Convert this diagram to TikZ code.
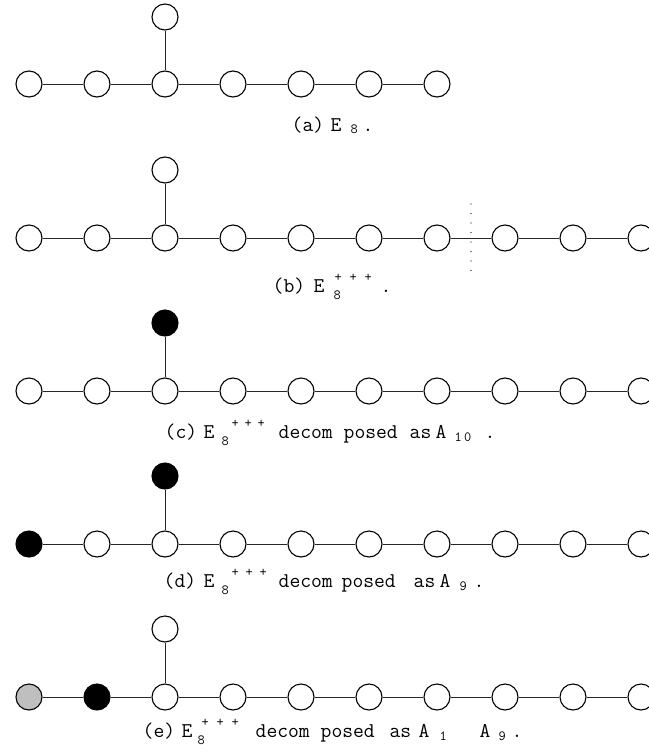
\documentclass[tikz,border=0pt]{standalone}
\usepackage{fontspec}
\newcommand{\capfnt}{\ttfamily\fontsize{21}{23}\selectfont}
\newcommand{\scr}{\fontsize{14}{14}\selectfont}
\newcommand{\pc}[2]{\makebox[0pt][l]{\hspace*{#1pt}#2}}
\newcommand{\lo}[2]{\pc{#1}{\raisebox{-#2pt}{\scr 8}}}
\newcommand{\ppp}[2]{\pc{#1}{\raisebox{11pt}{\scr +}}\pc{\the\numexpr#1+#2\relax}{\raisebox{11pt}{\scr +}}\pc{\the\numexpr#1+#2+#2\relax}{\raisebox{11pt}{\scr +}}}
\newcommand{\sub}[2]{\pc{#1}{\raisebox{-3pt}{\scr #2}}}
\tikzset{
  dn/.style={circle, draw=black, line width=1.1pt, minimum size=26pt, inner sep=0pt, fill=white},
  blk/.style={dn, fill=black},
  gry/.style={dn, fill=black!25},
  edge/.style={line width=1pt, draw=black!85},
  captxt/.style={anchor=base west, font=\capfnt, inner sep=0pt},
  sepline/.style={line width=1.4pt, line cap=round, dash pattern=on 0pt off 9.5pt, draw=black}
}
\begin{document}
\begin{tikzpicture}[x=1pt,y=-1pt]
\useasboundingbox (0,0) rectangle (648,755);
% (a)
\foreach \i in {1,...,7} \node[dn] (a\i) at ({29+68*(\i-1)},84) {};
\node[dn] (at) at (165,17) {};
\foreach \i [evaluate=\i as \j using int(\i+1)] in {1,...,6} \draw[edge] (a\i) -- (a\j);
\draw[edge] (a3) -- (at);
\node[captxt] (capa) at (0,131) {\pc{291}{(a)}\pc{330}{E}\lo{350}{2}\pc{362}{.}};
% (b)
\foreach \i in {1,...,10} \node[dn] (b\i) at ({29+68*(\i-1)},238) {};
\node[dn] (bt) at (165,170) {};
\foreach \i [evaluate=\i as \j using int(\i+1)] in {1,...,9} \draw[edge] (b\i) -- (b\j);
\draw[edge] (b3) -- (bt);
\coordinate (sbt) at (471,204);
\coordinate (sbb) at (471,271);
\draw[sepline] (sbt) -- (sbb);
\node[captxt] (capb) at (0,292) {\pc{272}{(b)}\pc{313}{E}\lo{333}{7}\ppp{334}{15}\pc{380}{.}};
% (c)
\foreach \i in {1,...,10} \node[dn] (c\i) at ({29+68*(\i-1)},391) {};
\node[blk] (ct) at (165,323) {};
\foreach \i [evaluate=\i as \j using int(\i+1)] in {1,...,9} \draw[edge] (c\i) -- (c\j);
\draw[edge] (c3) -- (ct);
\node[captxt] (capc) at (0,438) {\pc{164}{(c)}\pc{203}{E}\lo{221}{7}\ppp{231}{13}\pc{278}{decom}\pc{343}{posed}\pc{409}{as}\pc{435}{A}\sub{454}{1\,0}\pc{484}{.}};
% (d)
\node[blk] (d1) at (29,544) {};
\foreach \i in {2,...,10} \node[dn] (d\i) at ({29+68*(\i-1)},544) {};
\node[blk] (dt) at (165,476) {};
\foreach \i [evaluate=\i as \j using int(\i+1)] in {1,...,9} \draw[edge] (d\i) -- (d\j);
\draw[edge] (d3) -- (dt);
\node[captxt] (capd) at (0,587) {\pc{163}{(d)}\pc{203}{E}\lo{221}{7}\ppp{231}{14}\pc{278}{decom}\pc{341}{posed}\pc{413}{as}\pc{439}{A}\sub{459}{9}\pc{473}{.}};
% (e)
\node[gry] (e1) at (29,697) {};
\node[blk] (e2) at (97,697) {};
\foreach \i in {3,...,10} \node[dn] (e\i) at ({29+68*(\i-1)},697) {};
\node[dn] (et) at (165,629) {};
\foreach \i [evaluate=\i as \j using int(\i+1)] in {1,...,9} \draw[edge] (e\i) -- (e\j);
\draw[edge] (e3) -- (et);
\node[captxt] (cape) at (0,737) {\pc{142}{(e)}\pc{181}{E}\lo{197}{7}\ppp{201}{15}\pc{255}{decom}\pc{320}{posed}\pc{389}{as}\pc{418}{A}\sub{439}{1}\pc{479}{A}\sub{498}{9}\pc{511}{.}};
\end{tikzpicture}
\end{document}
